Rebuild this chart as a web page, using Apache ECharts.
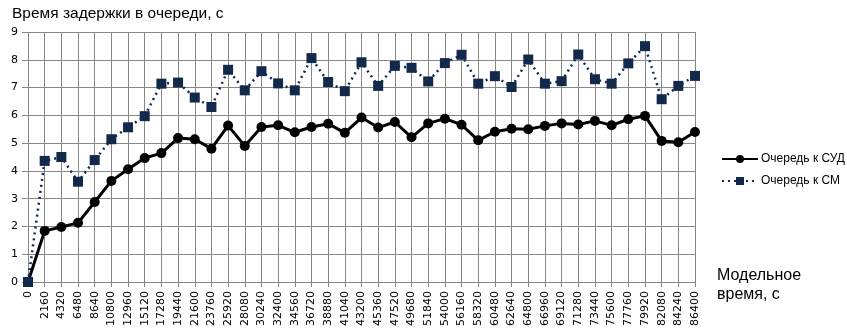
<!DOCTYPE html>
<html>
<head>
<meta charset="utf-8">
<script src="https://cdn.jsdelivr.net/npm/echarts@6/dist/echarts.min.js"></script>
<style>
html,body{margin:0;padding:0;background:#fff;}
#chart{width:847px;height:335px;}
</style>
</head>
<body>
<div id="chart"></div>
<script>
var categories = ['0','2160','4320','6480','8640','10800','12960','15120','17280','19440','21600','23760','25920','28080','30240','32400','34560','36720','38880','41040','43200','45360','47520','49680','51840','54000','56160','58320','60480','62640','64800','66960','69120','71280','73440','75600','77760','79920','82080','84240','86400'];
var seriesSUD = [0,1.84,1.98,2.13,2.88,3.64,4.06,4.46,4.64,5.18,5.14,4.8,5.63,4.9,5.58,5.64,5.39,5.58,5.7,5.37,5.92,5.56,5.76,5.21,5.71,5.88,5.66,5.1,5.41,5.52,5.5,5.62,5.71,5.67,5.8,5.64,5.86,5.98,5.08,5.03,5.4];
var seriesSM = [0,4.36,4.5,3.61,4.39,5.14,5.57,5.97,7.14,7.18,6.64,6.3,7.64,6.9,7.59,7.15,6.9,8.06,7.2,6.87,7.91,7.06,7.78,7.71,7.22,7.88,8.18,7.14,7.41,7.02,8.01,7.14,7.23,8.19,7.3,7.14,7.87,8.49,6.58,7.06,7.42];
var seriesNames = ['Очередь к СУД','Очередь к СМ'];
var yTitle = 'Время задержки в очереди, с';
var xTitle = 'Модельное\nвремя, с';

var chart = echarts.init(document.getElementById('chart'), null, {renderer:'canvas'});
var gridColor = '#878787';
chart.setOption({
  animation:false,
  backgroundColor:'#fff',
  textStyle:{fontFamily:'Liberation Sans, Arial, sans-serif'},
  title:{text:yTitle,left:7,top:1,textStyle:{fontSize:15.5,fontWeight:'normal',color:'#000',fontFamily:'Liberation Sans, Arial, sans-serif'}},
  graphic:[{type:'text',left:717,top:266,style:{text:xTitle,fontSize:16,lineHeight:19,fill:'#000',fontFamily:'Liberation Sans, Arial, sans-serif'}}],
  legend:{orient:'vertical',left:716,top:148,itemWidth:36,itemHeight:10,itemGap:10,padding:[5,0,5,5],
    textStyle:{fontSize:12,color:'#000',padding:[0,0,0,-2]},
    data:seriesNames},
  grid:{left:28,right:152,top:32,bottom:53,containLabel:false},
  xAxis:{type:'category',data:categories,boundaryGap:false,
    axisLine:{show:true,lineStyle:{color:gridColor,width:1}},
    axisTick:{show:true,alignWithLabel:true,length:5,lineStyle:{color:gridColor}},
    splitLine:{show:true,lineStyle:{color:gridColor,width:1}},
    axisLabel:{rotate:90,interval:0,fontSize:11,color:'#000',margin:9,fontFamily:'DejaVu Sans'}},
  yAxis:{type:'value',min:0,max:9,interval:1,
    axisLine:{show:false},
    axisTick:{show:true,length:6,lineStyle:{color:gridColor}},
    splitLine:{show:true,lineStyle:{color:gridColor,width:1}},
    axisLabel:{fontSize:11,color:'#000',margin:10,fontFamily:'DejaVu Sans'}},
  series:[
    {name:seriesNames[0],type:'line',data:seriesSUD,symbol:'circle',symbolSize:10,
     lineStyle:{color:'#000',width:3},itemStyle:{color:'#000'}},
    {name:seriesNames[1],type:'line',data:seriesSM,symbol:'rect',symbolSize:10,
     lineStyle:{color:'#13294b',width:2.5,type:[2,4]},itemStyle:{color:'#13294b'}}
  ]
});
</script>
</body>
</html>
